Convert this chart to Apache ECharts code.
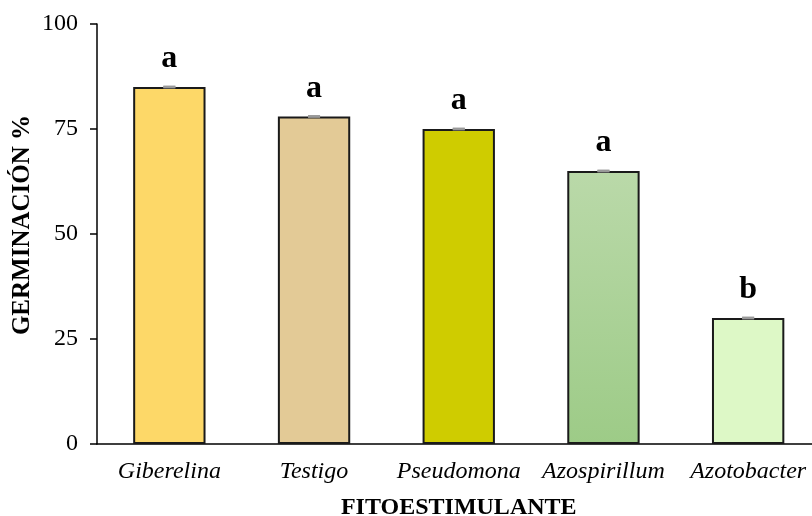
<!DOCTYPE html>
<html>
<head>
<meta charset="utf-8">
<script src="https://cdn.jsdelivr.net/npm/echarts@6/dist/echarts.min.js"></script>
<style>
  html, body { margin: 0; padding: 0; background: #ffffff; }
  #chart { width: 812px; height: 516px; }
</style>
</head>
<body>
<div id="chart"></div>
<script>
// Germination percentage by plant growth promoter
const categories = ['Giberelina', 'Testigo', 'Pseudomona', 'Azospirillum', 'Azotobacter'];
const germination = [85, 78, 75, 65, 30];
const errors = [0, 0, 0, 0, 0];
const groupLetters = ['a', 'a', 'a', 'a', 'b'];
const yTicks = [0, 25, 50, 75, 100];

const fills = [
  '#FDD868',
  '#E3CA96',
  '#CFCC00',
  new echarts.graphic.LinearGradient(0, 0, 0, 1, [
    { offset: 0, color: '#BAD9A9' },
    { offset: 1, color: '#9DCB87' }
  ]),
  '#DDF8C6'
];

const serif = '"Liberation Serif", "Times New Roman", serif';
const chart = echarts.init(document.getElementById('chart'), null, { renderer: 'canvas' });

chart.setOption({
  animation: false,
  backgroundColor: '#ffffff',
  grid: {
    left: 97, top: 24, width: 723.5, height: 420,
    containLabel: false, outerBoundsMode: 'none'
  },
  xAxis: {
    type: 'category',
    data: categories,
    boundaryGap: true,
    name: 'FITOESTIMULANTE',
    nameLocation: 'middle',
    nameGap: 52,
    nameMoveOverlap: false,
    nameTextStyle: { fontFamily: serif, fontWeight: 'bold', fontSize: 24, color: '#000' },
    axisLine: { lineStyle: { color: '#000', width: 1.5 } },
    axisTick: { alignWithLabel: true, length: 5, lineStyle: { color: '#000', width: 1.5 } },
    axisLabel: {
      interval: 0, hideOverlap: false,
      fontFamily: serif, fontStyle: 'italic', fontSize: 24, color: '#000', margin: 16
    }
  },
  yAxis: {
    type: 'value',
    min: yTicks[0],
    max: yTicks[yTicks.length - 1],
    interval: 25,
    name: 'GERMINACIÓN %',
    nameLocation: 'middle',
    nameRotate: 90,
    nameGap: 62,
    nameMoveOverlap: false,
    nameTextStyle: { fontFamily: serif, fontWeight: 'bold', fontSize: 25, color: '#000', padding: [0, 0, 0, 18] },
    splitLine: { show: false },
    axisLine: { show: true, lineStyle: { color: '#000', width: 1.5 } },
    axisTick: { show: true, length: 7, lineStyle: { color: '#000', width: 1.5 } },
    axisLabel: { fontFamily: serif, fontSize: 24, color: '#000', margin: 19 }
  },
  series: [
    {
      type: 'bar',
      barWidth: '50%',
      data: germination.map((v, i) => ({
        value: v,
        itemStyle: { color: fills[i] }
      })),
      itemStyle: { borderColor: '#1a1a1a', borderWidth: 2 },
      label: {
        show: true,
        position: 'top',
        distance: 12,
        formatter: p => groupLetters[p.dataIndex],
        fontFamily: serif,
        fontWeight: 'bold',
        fontSize: 32,
        color: '#000'
      },
      z: 2
    },
    {
      // small error caps on the bar tops
      type: 'custom',
      data: germination.map((v, i) => [i, v, errors[i]]),
      renderItem: (params, api) => {
        const i = api.value(0);
        const v = api.value(1);
        const e = api.value(2);
        const hi = api.coord([i, v + e]);
        const lo = api.coord([i, v - e]);
        const style = { stroke: '#999999', lineWidth: 2.5 };
        return {
          type: 'group',
          children: [
            { type: 'line', shape: { x1: hi[0] - 6, y1: hi[1], x2: hi[0] + 6, y2: hi[1] }, style },
            { type: 'line', shape: { x1: hi[0], y1: hi[1], x2: lo[0], y2: lo[1] }, style },
            { type: 'line', shape: { x1: lo[0] - 6, y1: lo[1], x2: lo[0] + 6, y2: lo[1] }, style }
          ]
        };
      },
      z: 3
    }
  ]
});
</script>
</body>
</html>
